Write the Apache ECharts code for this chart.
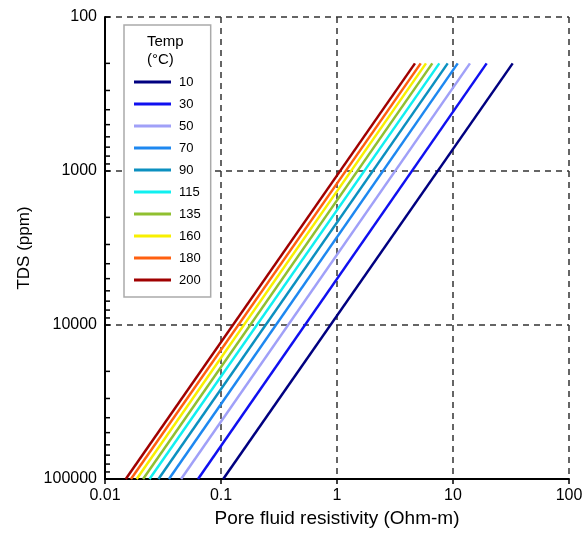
<!DOCTYPE html>
<html><head><meta charset="utf-8">
<script src="https://cdn.jsdelivr.net/npm/echarts@6/dist/echarts.min.js"></script>
<style>html,body{margin:0;padding:0;background:#fff}#c{width:586px;height:541px}</style>
</head><body><div id="c"></div>
<script>
// Temperatures (°C) of each curve
const temps = ['10','30','50','70','90','115','135','160','180','200'];
const colors = ['#000080','#1010f0','#a0a0f8','#1e88f0','#0c90c0','#10f0f0','#90c030','#f8f000','#ff6010','#a00000'];
// TDS values (ppm) at the two ends of every line
const tdsEnds = [100000, 200];
// Pore fluid resistivity (Ohm-m) at TDS = 100000 and at TDS = 200
const resAt100000 = [0.1045, 0.0634, 0.0453, 0.0356, 0.0289, 0.0242, 0.0213, 0.01875, 0.01675, 0.0151];
const resAt200    = [32.7, 19.5, 14.0, 10.98, 9.0, 7.62, 6.63, 5.85, 5.27, 4.70];
// Tick labels
const xTicks = ['0.01','0.1','1','10','100'];
const yTicks = ['100','1000','10000','100000'];
// Minor tick positions on TDS axis
const yMinor = [200,300,400,500,600,700,800,900,2000,3000,4000,5000,6000,7000,8000,9000,20000,30000,40000,50000,60000,70000,80000,90000];

const FONT = 'Liberation Sans, Arial, sans-serif';
const chart = echarts.init(document.getElementById('c'));
const series = temps.map((t, i) => ({
  name: t, type: 'line', showSymbol: false, symbol: 'none',
  data: [[resAt100000[i], tdsEnds[0]], [resAt200[i], tdsEnds[1]]],
  lineStyle: {color: colors[i], width: 2.5}, itemStyle: {color: colors[i]},
  z: 3
}));
series.push({
  type: 'custom', silent: true, clip: false, z: 4,
  data: yMinor.map(v => [0.01, v]),
  renderItem: (params, api) => {
    const p = api.coord([api.value(0), api.value(1)]);
    return {type: 'line', shape: {x1: p[0], y1: p[1], x2: p[0] + 5, y2: p[1]},
            style: {stroke: '#000', lineWidth: 1.5}};
  }
});
chart.setOption({
  animation: false,
  backgroundColor: '#fff',
  grid: {left: 105, right: 17, top: 17, bottom: 62, containLabel: false},
  xAxis: {
    type: 'log', logBase: 10, min: 0.01, max: 100,
    name: 'Pore fluid resistivity (Ohm-m)', nameLocation: 'middle', nameGap: 30,
    nameTextStyle: {fontFamily: FONT, fontSize: 19, color: '#000'},
    axisLine: {onZero: false, lineStyle: {color: '#000', width: 2}},
    axisTick: {show: true, length: 5, lineStyle: {color: '#000', width: 1.5}},
    axisLabel: {fontFamily: FONT, fontSize: 16, color: '#000', margin: 9,
      formatter: v => xTicks[Math.round(Math.log10(v)) + 2]},
    splitLine: {show: true, lineStyle: {color: '#333', type: [6, 5], width: 1.5}},
    minorTick: {show: false}
  },
  yAxis: {
    type: 'log', logBase: 10, min: 100, max: 100000, inverse: true,
    name: 'TDS (ppm)', nameLocation: 'middle', nameGap: 70,
    nameTextStyle: {fontFamily: FONT, fontSize: 17, color: '#000'},
    axisLine: {onZero: false, lineStyle: {color: '#000', width: 2}},
    axisTick: {show: true, inside: true, length: 5, lineStyle: {color: '#000', width: 1.5}},
    axisLabel: {fontFamily: FONT, fontSize: 16, color: '#000', margin: 8,
      formatter: v => yTicks[Math.round(Math.log10(v)) - 2]},
    splitLine: {show: true, lineStyle: {color: '#333', type: [6, 5], width: 1.5}}
  },
  legend: {
    data: temps, orient: 'vertical', left: 124, top: 25,
    backgroundColor: '#fff', borderColor: '#aaaaaa', borderWidth: 1.5,
    padding: [49, 10, 9, 10], itemGap: 6, itemWidth: 37, itemHeight: 3,
    icon: 'rect', selectedMode: false,
    textStyle: {fontFamily: FONT, fontSize: 13, color: '#000', lineHeight: 16, padding: [0, 0, 0, 3]}
  },
  graphic: [{
    type: 'text', left: 147, top: 33, z: 100,
    style: {text: 'Temp\n(°C)', font: '15px ' + FONT, fill: '#000', lineHeight: 18, align: 'left'}
  }],
  series: series
});
</script></body></html>
